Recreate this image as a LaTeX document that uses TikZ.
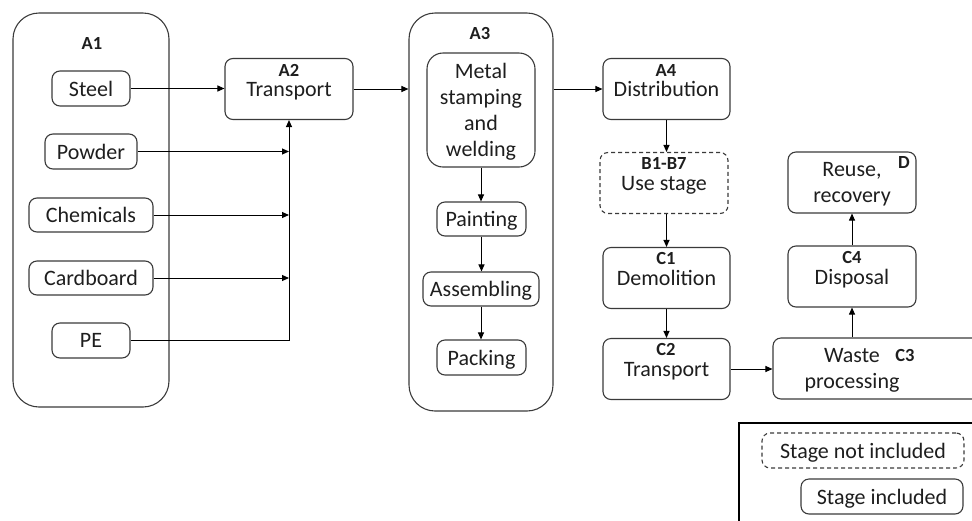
\documentclass[tikz,border=0pt]{standalone}
\usepackage{fontspec}
\setmainfont{Carlito}
\usetikzlibrary{arrows.meta}
\definecolor{ink}{HTML}{1E1E1E}
\definecolor{rim}{HTML}{3A3A3A}

\begin{document}
\begin{tikzpicture}[
    x=1pt, y=-1pt,
    font=\fontsize{22}{26}\selectfont,
    stage/.style={rectangle, draw=rim, line width=1.1pt, rounded corners=8pt, text=ink, align=center, inner sep=0pt, text depth=0pt},
    excluded/.style={stage, dash pattern=on 4pt off 3pt},
    group/.style={rectangle, draw=rim, line width=1.1pt, rounded corners=26pt, inner sep=0pt},
    tag/.style={font=\fontsize{18.5}{20}\selectfont\bfseries, text=ink, inner sep=0pt},
    flow/.style={draw=black, line width=1pt, -{Triangle[length=7pt,width=6pt]}}
  ]
  \useasboundingbox (0,0) rectangle (972,520);
  \clip (0,0) rectangle (972,520);

  \node[group, minimum width=156, minimum height=394] (a1) at (91,210) {};
  \node[tag] (a1tag) at (92,43) {A1};
  \node[stage, minimum width=78, minimum height=35] (steel) at (91,88.5) {Steel};
  \node[stage, minimum width=92, minimum height=35] (powder) at (91,151.5) {Powder};
  \node[stage, minimum width=124, minimum height=34] (chem) at (91,215) {Chemicals};
  \node[stage, minimum width=124, minimum height=34] (card) at (91,278) {Cardboard};
  \node[stage, minimum width=78, minimum height=35] (pe) at (91,340.5) {PE};

  \node[stage, minimum width=128, minimum height=61] (a2) at (289,89) {Transport};
  \node[tag] (a2tag) at (289,70.5) {A2};

  \node[group, minimum width=144, minimum height=398] (a3) at (481,212) {};
  \node[tag] (a3tag) at (480,33) {A3};
  \node[stage, rounded corners=16pt, minimum width=108, minimum height=114] (metal) at (481,110) {Metal\\stamping\\and\\welding};
  \node[stage, minimum width=89, minimum height=34] (paint) at (481.5,219) {Painting};
  \node[stage, minimum width=116, minimum height=34] (assem) at (481,289) {Assembling};
  \node[stage, minimum width=89, minimum height=35] (pack) at (481.5,357.5) {Packing};

  \node[stage, minimum width=127, minimum height=61] (a4) at (666.5,89) {Distribution};
  \node[tag] (a4tag) at (666,70.5) {A4};
  \node[excluded, minimum width=128, minimum height=61] (use) at (664,183) {Use stage};
  \node[tag] (usetag) at (664,163.5) {B1-B7};
  \node[stage, minimum width=127, minimum height=61] (c1) at (666.5,278) {Demolition};
  \node[tag] (c1tag) at (666,258.5) {C1};
  \node[stage, minimum width=127, minimum height=61] (c2) at (666.5,369) {Transport};
  \node[tag] (c2tag) at (666,349) {C2};

  \node[stage, minimum width=227, minimum height=61] (c3) at (886.5,368.5) {};
  \node[align=center, text=ink, inner sep=0pt, text depth=0pt] (c3text) at (852,368) {Waste\\processing};
  \node[tag] (c3tag) at (905,355) {C3};
  \node[stage, minimum width=128, minimum height=61] (c4) at (852,276.5) {Disposal};
  \node[tag] (c4tag) at (852,257) {C4};
  \node[stage, minimum width=128, minimum height=61] (d) at (852,182.5) {Reuse,\\recovery};
  \node[tag] (dtag) at (904,162) {D};

  \node[rectangle, draw=black, line width=1.1pt, minimum width=251, minimum height=117] (legend) at (864.5,481.5) {};
  \node[excluded, minimum width=202, minimum height=35] (notin) at (863,450.5) {Stage not included};
  \node[stage, minimum width=162, minimum height=35] (incl) at (882,496.5) {Stage included};

  \draw[flow] (steel.east) -- (steel.east -| a2.west);
  \draw[flow] (powder.east) -- (powder.east -| a2.south);
  \draw[flow] (chem.east) -- (chem.east -| a2.south);
  \draw[flow] (card.east) -- (card.east -| a2.south);
  \draw[flow] (pe.east) -| (a2.south);
  \draw[flow] (a2.east) -- (a2.east -| a3.west);
  \draw[flow] (metal.south) -- (metal.south |- paint.north);
  \draw[flow] (paint.south) -- (paint.south |- assem.north);
  \draw[flow] (assem.south) -- (assem.south |- pack.north);
  \draw[flow] (a4.west -| a3.east) -- (a4.west);
  \draw[flow] (a4.south) -- (a4.south |- use.north);
  \draw[flow] (c1.north |- use.south) -- (c1.north);
  \draw[flow] (c1.south) -- (c2.north);
  \draw[flow] (c2.east) -- (c2.east -| c3.west);
  \draw[flow] (c4.south |- c3.north) -- (c4.south);
  \draw[flow] (c4.north) -- (d.south);
\end{tikzpicture}
\end{document}
